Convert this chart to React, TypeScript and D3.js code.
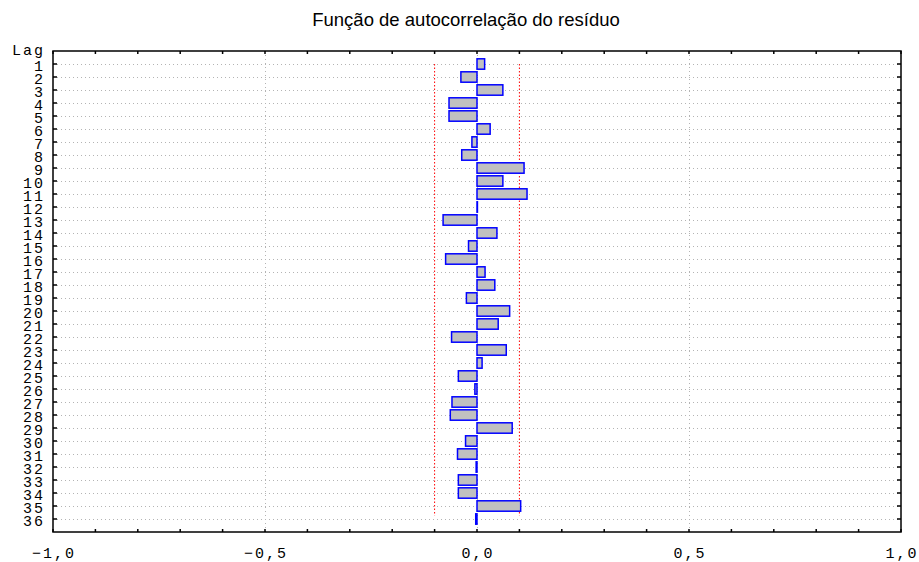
import { useEffect, useRef } from 'react';
import * as d3 from 'd3';

// Residual autocorrelation per lag
const lags = d3.range(1, 37);
const acf = [
  0.018, -0.038, 0.061, -0.066, -0.066, 0.031, -0.012, -0.036, 0.111, 0.061,
  0.118, 0.001, -0.08, 0.047, -0.02, -0.074, 0.019, 0.042, -0.025, 0.077,
  0.05, -0.06, 0.069, 0.012, -0.044, -0.005, -0.059, -0.063, 0.083, -0.027,
  -0.046, -0.002, -0.044, -0.044, 0.103, -0.003,
];
const confLimit = [-0.1, 0.1];
const xTicks = [-1, -0.5, 0, 0.5, 1];
const xGrid = [-0.5, 0, 0.5];
const title = 'Função de autocorrelação do resíduo';

export default function App() {
  const svgRef = useRef<SVGSVGElement | null>(null);

  useEffect(() => {
    if (!svgRef.current) return;
    const width = 919;
    const height = 562;
    const margin = { top: 51, right: 18, bottom: 30, left: 53 };
    const innerWidth = width - margin.left - margin.right;
    const innerHeight = height - margin.top - margin.bottom;

    const svg = d3.select(svgRef.current);
    svg.selectAll('*').remove();

    const x = d3.scaleLinear().domain([-1, 1]).range([0, innerWidth]);
    const y = d3.scaleLinear().domain([0, 37]).range([0, innerHeight]);

    svg.append('text')
      .attr('x', 466)
      .attr('y', 26)
      .attr('text-anchor', 'middle')
      .attr('font-family', '"Liberation Sans", Arial, sans-serif')
      .attr('font-size', '18.5px')
      .attr('fill', '#000')
      .text(title);

    const g = svg.append('g').attr('transform', `translate(${margin.left},${margin.top})`);

    // Grid lines
    g.selectAll('.grid-h')
      .data(lags)
      .enter()
      .append('line')
      .attr('x1', 0)
      .attr('x2', innerWidth)
      .attr('y1', (d) => y(d) + 0.5)
      .attr('y2', (d) => y(d) + 0.5)
      .attr('stroke', '#b4b4b4')
      .attr('stroke-width', 1)
      .attr('stroke-dasharray', '1,3');

    g.selectAll('.grid-v')
      .data(xGrid)
      .enter()
      .append('line')
      .attr('x1', (d) => Math.round(x(d)) + 0.5)
      .attr('x2', (d) => Math.round(x(d)) + 0.5)
      .attr('y1', 0)
      .attr('y2', innerHeight)
      .attr('stroke', '#b4b4b4')
      .attr('stroke-width', 1)
      .attr('stroke-dasharray', '1,3');

    // Confidence limits
    g.selectAll('.conf')
      .data(confLimit)
      .enter()
      .append('line')
      .attr('x1', (d) => x(d))
      .attr('x2', (d) => x(d))
      .attr('y1', y(1))
      .attr('y2', y(35.75))
      .attr('stroke', '#ff0000')
      .attr('stroke-width', 1)
      .attr('stroke-dasharray', '1.5,2');

    // Bars
    const barH = y(0.8);
    g.selectAll('.bar')
      .data(lags)
      .enter()
      .append('rect')
      .attr('x', (d, i) => Math.min(x(0), x(acf[i])))
      .attr('y', (d) => y(d) - barH / 2)
      .attr('width', (d, i) => Math.abs(x(acf[i]) - x(0)))
      .attr('height', barH)
      .attr('fill', '#c0c0c0')
      .attr('stroke', '#0000ff')
      .attr('stroke-width', 1.5);

    // Frame
    g.append('rect')
      .attr('x', 0)
      .attr('y', 0)
      .attr('width', innerWidth)
      .attr('height', innerHeight)
      .attr('fill', 'none')
      .attr('stroke', '#000')
      .attr('stroke-width', 1.5);

    const minor = d3.range(-10, 11).map((v) => v / 10);
    // Inward ticks on top and bottom
    g.selectAll('.tick-top')
      .data(minor)
      .enter()
      .append('line')
      .attr('x1', (d) => x(d))
      .attr('x2', (d) => x(d))
      .attr('y1', 0)
      .attr('y2', 3)
      .attr('stroke', '#000')
      .attr('stroke-width', 1.5);
    g.selectAll('.tick-bottom')
      .data(minor)
      .enter()
      .append('line')
      .attr('x1', (d) => x(d))
      .attr('x2', (d) => x(d))
      .attr('y1', innerHeight)
      .attr('y2', innerHeight - 3)
      .attr('stroke', '#000')
      .attr('stroke-width', 1.5);
    // Inward ticks on left and right
    g.selectAll('.tick-right')
      .data(lags)
      .enter()
      .append('line')
      .attr('x1', innerWidth)
      .attr('x2', innerWidth - 4)
      .attr('y1', (d) => y(d))
      .attr('y2', (d) => y(d))
      .attr('stroke', '#000')
      .attr('stroke-width', 1.5);
    g.selectAll('.tick-left')
      .data(lags)
      .enter()
      .append('line')
      .attr('x1', 0)
      .attr('x2', 4)
      .attr('y1', (d) => y(d))
      .attr('y2', (d) => y(d))
      .attr('stroke', '#000')
      .attr('stroke-width', 1.5);

    const mono = '"Liberation Mono", "DejaVu Sans Mono", monospace';
    const fmt = (v: number) => d3.format('.1f')(v).replace('.', ',');

    // X tick labels
    g.selectAll('.xlab')
      .data(xTicks)
      .enter()
      .append('text')
      .attr('x', (d) => x(d) + 1)
      .attr('y', innerHeight + 25.5)
      .attr('text-anchor', 'middle')
      .attr('font-family', mono)
      .attr('font-size', '15px')
      .attr('letter-spacing', '2px')
      .attr('fill', '#000')
      .text((d) => fmt(d));

    // Lag labels
    g.selectAll('.ylab')
      .data(lags)
      .enter()
      .append('text')
      .attr('x', -8)
      .attr('y', (d) => y(d) + 6.5)
      .attr('text-anchor', 'end')
      .attr('font-family', mono)
      .attr('font-size', '15px')
      .attr('letter-spacing', '2px')
      .attr('fill', '#000')
      .text((d) => String(d));

    g.append('text')
      .attr('x', -8)
      .attr('y', 4)
      .attr('text-anchor', 'end')
      .attr('font-family', mono)
      .attr('font-size', '15px')
      .attr('letter-spacing', '2px')
      .attr('fill', '#000')
      .text('Lag');
  }, []);

  return (
    <div style={{ position: 'absolute', left: 0, top: 0, background: '#fff' }}>
      <svg ref={svgRef} width={919} height={562} style={{ display: 'block' }} />
    </div>
  );
}
